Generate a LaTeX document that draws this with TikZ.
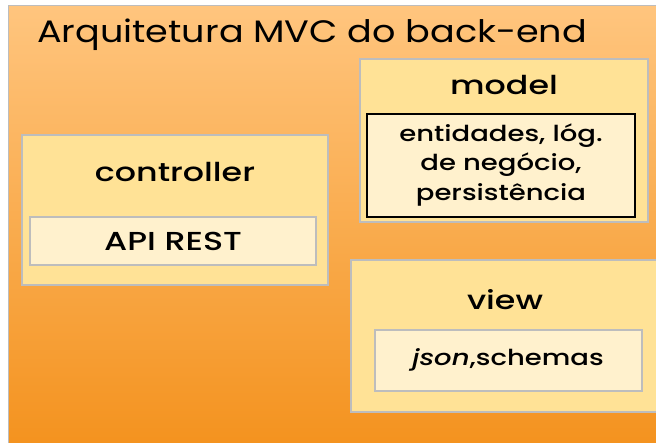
\documentclass[tikz,border=0pt]{standalone}
\usepackage{fontspec}
\setmainfont{Poppins}
\newfontfamily\headfont{Poppins}[FakeStretch=1.18]
\newfontfamily\labelfont{Poppins}[UprightFont=* Medium, ItalicFont=* Medium Italic, FakeStretch=1.28]
\newfontfamily\bodyfont{Poppins}[UprightFont=* Medium, ItalicFont=* Medium Italic, FakeStretch=1.25]
\definecolor{bgtop}{HTML}{FFC57E}
\definecolor{bgbot}{HTML}{F38F18}
\definecolor{layerfill}{HTML}{FFE296}
\definecolor{innerfill}{HTML}{FFF1CD}
\definecolor{edgegray}{HTML}{BDBDBD}
\tikzset{
  layer/.style={draw=edgegray, line width=1.4pt, fill=layerfill, inner sep=0pt},
  part/.style={draw=edgegray, line width=1.4pt, fill=innerfill, inner sep=0pt},
  partdark/.style={draw=black, line width=1.1pt, fill=innerfill, inner sep=0pt},
  layertitle/.style={font=\labelfont\fontsize{26}{30}\selectfont, inner sep=0pt},
  parttext/.style={font=\bodyfont\fontsize{22}{29.5}\selectfont, align=center, inner sep=0pt},
}
\begin{document}
\begin{tikzpicture}[x=1pt, y=-1pt]
  \useasboundingbox (0,0) rectangle (656,442);
  \clip (0,0) rectangle (656,442);
  % background frame with vertical orange gradient
  \node[draw=edgegray, line width=1.4pt, top color=bgtop, bottom color=bgbot,
        minimum width=680pt, minimum height=470pt, inner sep=0pt, anchor=north west]
        (frame) at (8,5) {};
  \node[font=\headfont\fontsize{31}{34}\selectfont, anchor=west, inner sep=0pt]
        (heading) at (37,35) {Arquitetura MVC do back-end};

  % controller layer
  \node[layer, minimum width=306pt, minimum height=150pt] (ctrl) at (175,210) {};
  \node[layertitle] (ctrltitle) at (175,172) {controller};
  \node[part, minimum width=286pt, minimum height=48pt] (api) at (173,241) {};
  \node[layertitle] (apitext) at (173,241) {API REST};

  % model layer
  \node[layer, minimum width=288pt, minimum height=163pt] (model) at (504,140.5) {};
  \node[layertitle] (modeltitle) at (504,85) {model};
  \node[partdark, minimum width=268pt, minimum height=103pt] (logic) at (501,165.5) {};
  \node[parttext] (logictext) at (501,165) {entidades, lóg.\\de negócio,\\persistência};

  % view layer
  \node[layer, minimum width=310pt, minimum height=152pt] (view) at (506,336) {};
  \node[layertitle] (viewtitle) at (505,300) {view};
  \node[part, minimum width=267pt, minimum height=61pt] (json) at (508.5,360.5) {};
  \node[parttext] (jsontext) at (508,360) {\textit{json},schemas};
\end{tikzpicture}
\end{document}
